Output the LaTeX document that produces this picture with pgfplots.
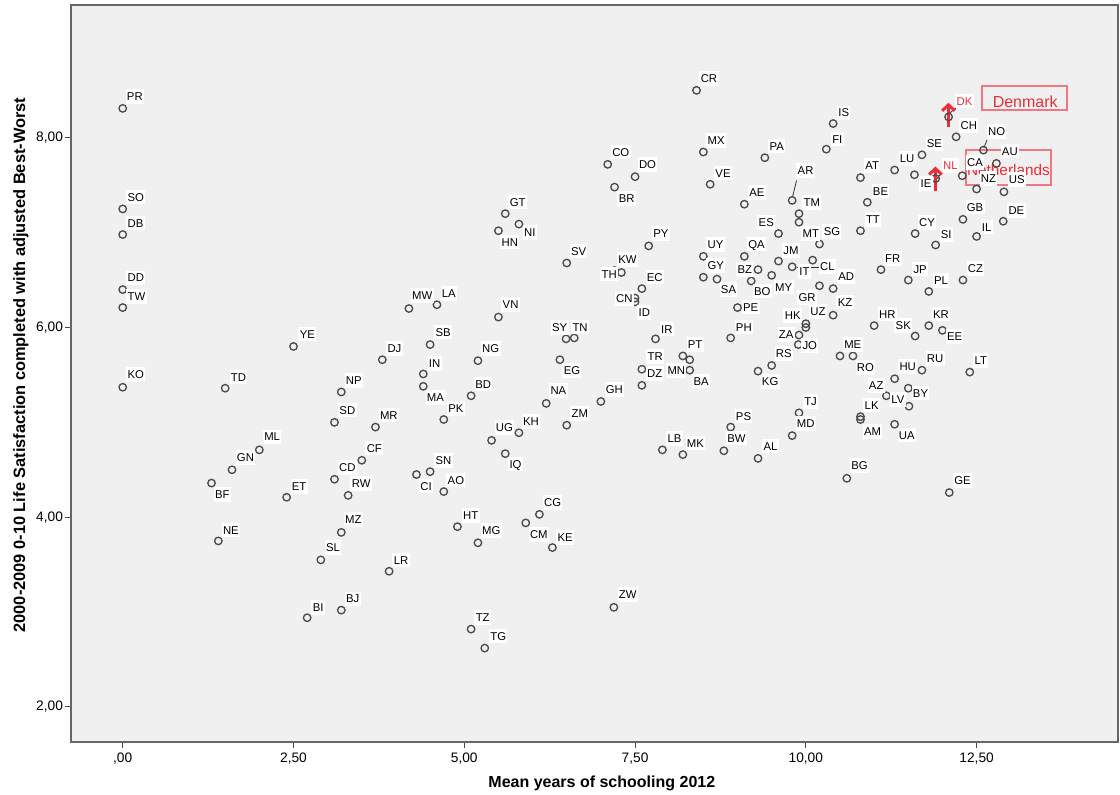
\documentclass[border=0pt]{standalone}
\usepackage{fontspec}
\setmainfont{Liberation Sans}
\usepackage{pgfplots}
\pgfplotsset{compat=1.18}
\usepackage{pgfplotstable}
\usetikzlibrary{arrows.meta}

\definecolor{plotbg}{RGB}{240,240,240}
\definecolor{markgray}{RGB}{75,75,75}
\definecolor{annored}{RGB}{236,45,55}
\definecolor{boxred}{RGB}{240,120,128}

% Countries whose code sits to the right of the point.
% dx, dy: offset (px) from the point to the left-middle of the code text.
\pgfplotstableread{
x y lab dx dy
0.00 8.31 PR 4 12
0.00 7.25 SO 4.6 12
0.00 6.98 DB 4.6 11.5
0.00 6.40 DD 4.6 11.7
0.00 6.21 TW 4.6 11
0.00 5.37 KO 4.6 12.6
2.50 5.80 YE 6 12.4
1.50 5.36 TD 5.4 11.3
2.00 4.71 ML 4.7 13
1.60 4.50 GN 4.7 12
1.30 4.36 BF 3.3 -11.7
2.40 4.21 ET 5 11
1.40 3.75 NE 4.4 11
2.90 3.55 SL 5 12.7
2.70 2.94 BI 5.4 10
5.50 6.11 VN 4 12.3
4.19 6.20 MW 3 13.3
4.60 6.24 LA 4.7 11.3
4.50 5.82 SB 5.3 12.7
3.80 5.66 DJ 5 11.3
4.40 5.51 IN 5.4 10.3
4.40 5.38 MA 3.4 -11
5.20 5.65 NG 4 12
3.20 5.32 NP 4.3 11.7
5.10 5.28 BD 4 11.7
3.10 5.00 SD 4.7 12.4
3.70 4.95 MR 4.3 12
4.70 5.03 PK 4.3 11
6.61 5.89 TN -2 11
6.40 5.66 EG 3.6 -11
6.20 5.20 NA 4 13
6.50 4.97 ZM 4.6 12
5.80 4.89 KH 4 11.3
5.40 4.81 UG 4 13
5.60 4.67 IQ 4 -10.3
3.50 4.60 CF 4.7 12.4
3.10 4.40 CD 4.4 11.7
3.30 4.23 RW 3.4 12
4.50 4.48 SN 5.3 11.3
4.30 4.45 CI 3.7 -11.6
4.70 4.27 AO 3.7 11.7
4.90 3.90 HT 5.4 11
5.20 3.73 MG 4 12
6.10 4.03 CG 4.4 12
5.90 3.94 CM 4 -11.3
6.29 3.68 KE 5 10.3
3.20 3.84 MZ 3.6 12.6
3.90 3.43 LR 4.4 11.3
3.20 3.02 BJ 4.6 11.3
5.10 2.82 TZ 4.4 11.7
5.30 2.62 TG 5.3 12
7.19 3.05 ZW 4.7 13
5.60 7.20 GT 4.3 11.6
5.80 7.09 NI 5 -8.7
5.50 7.02 HN 3 -11.4
6.50 6.68 SV 4 12
8.40 8.50 CR 4 11.7
10.40 8.15 IS 5 10.7
10.30 7.88 FI 5.7 10.3
8.50 7.85 MX 4 11.7
9.40 7.79 PA 4.6 11.6
7.10 7.72 CO 4.3 12.3
7.50 7.59 DO 3.7 12.3
8.60 7.51 VE 5 11.3
7.20 7.48 BR 4 -11.6
9.10 7.30 AE 4.7 11.7
9.80 7.34 AR 5.3 30
9.90 7.20 TM 4.4 11
9.90 7.11 MT 3.4 -11
10.20 6.88 SG 4 12.3
7.70 6.86 PY 4.3 12.4
8.50 6.75 UY 4 11.7
9.10 6.75 QA 3.7 12.4
9.60 6.70 JM 4.6 10.6
7.20 6.60 KW 3.6 11.4
8.50 6.53 GY 4 12
8.70 6.51 SA 3.7 -10.3
9.20 6.49 BO 2.7 -10
9.50 6.55 MY 3.3 -11.6
9.80 6.64 IT 7 -4.4
10.10 6.71 CL 7.3 -6.6
10.40 6.41 AD 5 12.3
7.60 6.41 EC 4.7 11.6
7.50 6.27 ID 3.3 -10.7
9.00 6.21 PE 5.4 0.6
10.40 6.13 KZ 4.4 13
10.00 6.00 UZ 4.4 15.7
9.89 5.82 JO 4 -1
8.90 5.89 PH 5 11
7.80 5.88 IR 5.3 10
8.20 5.70 PT 4.7 11.4
8.30 5.55 BA 3.7 -10.7
7.60 5.56 TR 5.6 12.4
7.60 5.39 DZ 5 11.7
7.00 5.22 GH 4.7 11.7
9.50 5.60 RS 4 11.7
9.30 5.54 KG 3.7 -10.7
10.50 5.70 ME 4 11.7
10.69 5.70 RO 3.7 -11.3
9.90 5.10 TJ 5 11.6
9.80 4.86 MD 4.4 12
8.90 4.95 PS 5 11
8.80 4.70 BW 3.3 12.7
7.90 4.71 LB 5 11.3
8.20 4.66 MK 3.7 11.7
9.30 4.62 AL 5.3 12.4
10.60 4.41 BG 4.3 12.6
11.00 6.02 HR 4.7 11.7
11.80 6.02 KR 4 11.7
12.00 5.97 EE 4.3 -6.3
11.30 5.46 HU 4.6 12
11.70 5.55 RU 4.7 11.7
12.40 5.53 LT 4.6 11.6
11.50 5.36 BY 4.4 -4.7
10.80 5.06 LK 4 11.7
10.80 5.03 AM 3.3 -11.7
11.30 4.98 UA 4 -10.7
12.10 4.26 GE 4.7 12
12.20 8.01 CH 4.3 11.6
11.70 7.82 SE 4.7 11
12.60 7.87 NO 4.4 18.4
12.79 7.73 AU 5.3 12.3
11.30 7.66 LU 5 11.3
11.59 7.61 IE 6 -9
12.29 7.60 CA 4.6 13.3
10.80 7.58 AT 4.6 12.3
12.50 7.46 NZ 4 10.3
12.90 7.43 US 4.7 12.4
10.90 7.32 BE 5.4 11.3
12.30 7.14 GB 3.7 12.3
12.89 7.12 DE 5 11
10.80 7.02 TT 5.3 11.3
11.60 6.99 CY 3.7 11.4
12.50 6.96 IL 5 9.4
11.90 6.87 SI 5 10.6
11.10 6.61 FR 4 11
11.50 6.50 JP 5 11
12.30 6.50 CZ 4.7 11.3
11.80 6.38 PL 5 11
}\rightlabels

% Countries whose code sits to the left of the point.
% dx, dy: offset (px) from the point to the right-middle of the code text.
\pgfplotstableread{
x y lab dx dy
6.49 5.88 SY 1.4 11.7
9.60 6.99 ES -4.4 11.3
7.30 6.58 TH -4.4 -1.6
9.30 6.61 BZ -5.7 0
10.20 6.44 GR -3.7 -11.7
7.50 6.31 CN -2.3 -0.7
10.00 6.04 HK -5 8
9.90 5.92 ZA -5.3 0.7
8.30 5.66 MN -4.3 -11
11.60 5.91 SK -4 10.3
11.18 5.28 AZ -2.7 10.3
11.51 5.17 LV -4.3 6.7
}\leftlabels

% Highlighted countries.
\pgfplotstableread{
x y lab dx dy
12.09 8.22 DK 7.7 16
11.90 7.57 NL 7.3 13
}\redlabels

\pgfplotsset{
  countrymark/.style={only marks, mark=o, mark size=2.8pt,
    mark options={draw=markgray, line width=1pt}},
  codebase/.style={only marks, mark=*, mark size=0pt,
    mark options={draw=none, fill=none},
    point meta=explicit symbolic,
    visualization depends on={\thisrow{dx}\as\ldx},
    visualization depends on={\thisrow{dy}\as\ldy},
    nodes near coords},
  coderight/.style={codebase,
    nodes near coords style={font=\fontsize{8.5}{8.5}\selectfont, fill=white,
      inner xsep=1pt, inner ysep=0pt, text height=8.6pt, text depth=2.4pt,
      anchor=west, xshift=0.75pt*\ldx-1pt, yshift=0.75pt*\ldy}},
  codeleft/.style={codebase,
    nodes near coords style={font=\fontsize{8.5}{8.5}\selectfont, fill=white,
      inner xsep=1pt, inner ysep=0pt, text height=8.6pt, text depth=2.4pt,
      anchor=east, xshift=0.75pt*\ldx+1pt, yshift=0.75pt*\ldy}},
}

\begin{document}
\begin{tikzpicture}
\useasboundingbox (0,0) rectangle (840pt,595.5pt);
\begin{axis}[
  at={(53.25pt,39pt)}, anchor=south west,
  scale only axis, width=785.25pt, height=552.75pt,
  xmin=-0.757, xmax=14.57, ymin=1.63, ymax=9.40,
  axis background/.style={fill=plotbg},
  axis line style={draw=black!60, line width=0.9pt},
  xtick={0,2.5,5,7.5,10,12.5},
  xticklabels={{,00},{2,50},{5,00},{7,50},{10,00},{12,50}},
  ytick={2,4,6,8},
  yticklabels={{2,00},{4,00},{6,00},{8,00}},
  tick align=outside, major tick length=4.5pt,
  xtick pos=left, ytick pos=left,
  tick style={draw=black!70, line width=0.8pt},
  ticklabel style={font=\fontsize{10.3}{10.3}\selectfont},
  yticklabel style={xshift=2pt},
  /pgf/number format/assume math mode=true,
  xlabel={Mean years of schooling 2012},
  ylabel={2000-2009 0-10 Life Satisfaction completed with adjusted Best-Worst},
  xlabel style={font=\bfseries\fontsize{12}{12}\selectfont,
    at={(axis description cs:0.507,-0.0556)}, anchor=center},
  ylabel style={font=\bfseries\fontsize{12.3}{12.3}\selectfont,
    at={(axis description cs:-0.0478,0.5115)}, anchor=center},
]
% points
\addplot[countrymark] table[x=x,y=y] {\rightlabels};
\addplot[countrymark] table[x=x,y=y] {\leftlabels};
\addplot[countrymark] table[x=x,y=y] {\redlabels};

% country codes
\addplot[coderight] table[x=x,y=y,meta=lab] {\rightlabels};
\addplot[codeleft] table[x=x,y=y,meta=lab] {\leftlabels};
\addplot[coderight, nodes near coords style={text=annored}] table[x=x,y=y,meta=lab] {\redlabels};

% leader lines to displaced codes
\draw[black!80, line width=0.6pt] (axis cs:9.805,7.374) -- (axis cs:9.864,7.550);
\draw[black!80, line width=0.6pt] (axis cs:12.605,7.891) -- (axis cs:12.653,7.979);
\draw[black!80, line width=0.6pt] (axis cs:12.107,8.261) -- (axis cs:12.195,8.313);
\draw[black!80, line width=0.6pt] (axis cs:11.922,7.571) -- (axis cs:11.986,7.628);
\draw[black!80, line width=0.6pt] (axis cs:9.864,6.636) -- (axis cs:10.205,6.636);

% highlighted countries
\draw[annored, line width=2.2pt, -{Straight Barb[length=4.5pt,width=9.5pt]}]
  (axis cs:12.088,8.116) -- (axis cs:12.088,8.369);
\draw[annored, line width=2.2pt, -{Straight Barb[length=4.5pt,width=9.5pt]}]
  (axis cs:11.897,7.441) -- (axis cs:11.897,7.697);
\draw[boxred, line width=1.5pt] (axis cs:12.586,8.288) rectangle (axis cs:13.824,8.549);
\node[text=annored, font=\fontsize{12}{12}\selectfont, inner sep=0pt]
  at (axis cs:13.212,8.383) {Denmark};
\draw[boxred, line width=1.5pt] (axis cs:12.342,7.504) rectangle (axis cs:13.586,7.873);
\node[text=annored, font=\fontsize{11.5}{11.5}\selectfont, inner sep=0pt]
  at (axis cs:12.966,7.662) {Netherlands};
\end{axis}
\end{tikzpicture}
\end{document}
